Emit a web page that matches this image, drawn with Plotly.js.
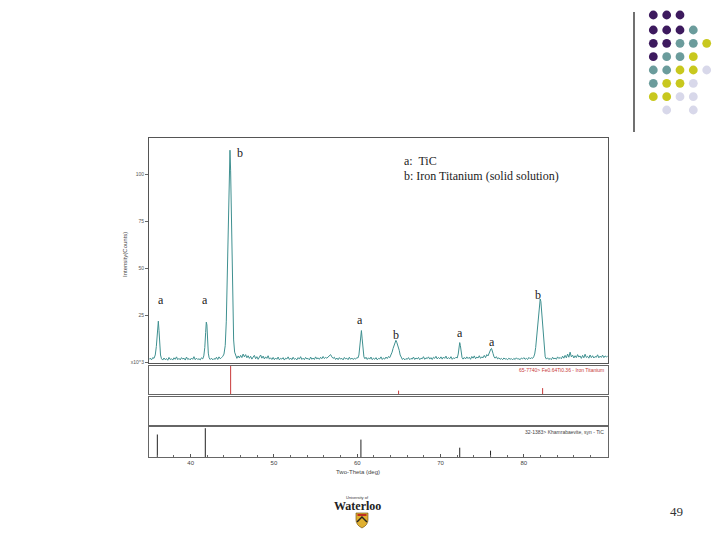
<!DOCTYPE html>
<html>
<head>
<meta charset="utf-8">
<script src="https://cdn.plot.ly/plotly-3.0.1.min.js"></script>
<style>html,body{margin:0;padding:0;background:#fff;}#chart{width:728px;height:546px;}</style>
</head>
<body>
<div id="chart"></div>
<script>
// ---- DATA ----
const twoTheta = [
35.00,35.15,35.30,35.45,35.60,35.75,35.88,35.98,36.06,36.12,
36.20,36.28,36.38,36.50,36.65,36.80,36.95,37.10,37.25,37.40,
37.55,37.70,37.85,38.00,38.15,38.30,38.45,38.60,38.75,38.90,
39.05,39.20,39.35,39.50,39.65,39.80,39.95,40.10,40.25,40.40,
40.55,40.70,40.85,41.00,41.15,41.30,41.45,41.58,41.70,41.80,
41.88,41.95,42.03,42.12,42.22,42.35,42.50,42.65,42.80,42.95,
43.10,43.25,43.40,43.55,43.70,43.85,44.00,44.15,44.28,44.40,
44.50,44.58,44.66,44.72,44.80,44.88,44.97,45.06,45.16,45.28,
45.42,45.55,45.70,45.85,46.00,46.15,46.30,46.45,46.60,46.75,
46.90,47.05,47.20,47.35,47.50,47.65,47.80,47.95,48.10,48.25,
48.40,48.55,48.70,48.85,49.00,49.15,49.30,49.45,49.60,49.75,
49.90,50.05,50.20,50.35,50.50,50.65,50.80,50.95,51.10,51.25,
51.40,51.55,51.70,51.85,52.00,52.15,52.30,52.45,52.60,52.75,
52.90,53.05,53.20,53.35,53.50,53.65,53.80,53.95,54.10,54.25,
54.40,54.55,54.70,54.85,55.00,55.15,55.30,55.45,55.60,55.75,
55.90,56.05,56.20,56.35,56.50,56.65,56.80,56.95,57.10,57.25,
57.40,57.55,57.70,57.85,58.00,58.15,58.30,58.45,58.60,58.75,
58.90,59.05,59.20,59.35,59.50,59.65,59.80,59.95,60.08,60.20,
60.32,60.42,60.50,60.58,60.68,60.80,60.92,61.05,61.20,61.35,
61.50,61.65,61.80,61.95,62.10,62.25,62.40,62.55,62.70,62.85,
63.00,63.15,63.30,63.45,63.60,63.75,63.90,64.05,64.18,64.30,
64.42,64.54,64.64,64.74,64.84,64.94,65.04,65.15,65.28,65.42,
65.55,65.70,65.85,66.00,66.15,66.30,66.45,66.60,66.75,66.90,
67.05,67.20,67.35,67.50,67.65,67.80,67.95,68.10,68.25,68.40,
68.55,68.70,68.85,69.00,69.15,69.30,69.45,69.60,69.75,69.90,
70.05,70.20,70.35,70.50,70.65,70.80,70.95,71.10,71.25,71.40,
71.55,71.70,71.85,72.00,72.12,72.22,72.30,72.38,72.47,72.58,
72.70,72.85,73.00,73.15,73.30,73.45,73.60,73.75,73.90,74.05,
74.20,74.35,74.50,74.65,74.80,74.95,75.10,75.25,75.40,75.55,
75.70,75.82,75.94,76.04,76.12,76.20,76.30,76.42,76.55,76.70,
76.85,77.00,77.15,77.30,77.45,77.60,77.75,77.90,78.05,78.20,
78.35,78.50,78.65,78.80,78.95,79.10,79.25,79.40,79.55,79.70,
79.85,80.00,80.15,80.30,80.45,80.60,80.75,80.90,81.05,81.18,
81.30,81.42,81.52,81.60,81.66,81.74,81.82,81.90,81.96,82.04,
82.13,82.22,82.32,82.43,82.56,82.70,82.85,83.00,83.15,83.30,
83.45,83.60,83.75,83.90,84.05,84.20,84.35,84.50,84.65,84.80,
84.95,85.10,85.25,85.40,85.55,85.70,85.85,86.00,86.15,86.30,
86.45,86.60,86.75,86.90,87.05,87.20,87.35,87.50,87.65,87.80,
87.95,88.10,88.25,88.40,88.55,88.70,88.85,89.00,89.15,89.30,
89.45,89.60,89.75,89.90,90.05
];
const counts = [
1.6,2.3,1.4,2.6,2.2,4.0,8.5,15.0,20.0,22.0,
17.0,9.0,4.0,2.0,1.3,2.4,1.5,2.1,1.2,2.7,
1.6,2.0,1.3,2.5,1.7,3.0,1.5,2.2,1.4,2.6,
1.8,2.3,1.3,2.9,1.6,2.1,1.4,2.4,1.7,3.1,
1.5,2.3,1.6,2.0,1.4,2.5,1.9,3.5,8.0,16.0,
21.5,20.0,12.0,5.0,2.5,1.6,2.3,1.4,2.1,1.7,
2.8,1.6,3.0,2.0,2.6,3.2,4.5,9.0,22.0,48.0,
78.0,100.0,112.0,113.0,102.0,80.0,50.0,26.0,12.0,5.5,
3.0,2.2,3.5,2.4,3.8,2.6,4.5,3.0,4.2,2.5,
3.6,2.2,3.3,1.8,2.9,3.8,2.0,3.1,1.7,2.8,
4.0,2.3,3.4,1.9,3.0,2.2,3.6,1.8,2.5,1.6,
2.7,1.5,2.4,1.7,2.9,1.4,2.2,1.8,2.6,1.3,
2.3,1.9,3.0,1.6,2.4,1.5,2.8,1.7,2.1,1.4,
2.6,1.8,3.1,1.6,2.3,1.5,2.7,1.9,2.2,1.4,
2.9,1.7,2.4,1.6,3.0,1.9,2.5,1.7,2.8,2.0,
3.2,2.1,2.7,2.3,3.1,3.5,4.2,3.0,2.2,2.8,
1.6,2.4,1.5,2.6,1.8,2.2,1.4,2.7,1.9,2.3,
1.5,2.8,1.7,2.4,1.6,2.2,1.8,2.6,2.4,4.0,
8.5,14.5,17.0,13.0,6.5,3.0,2.0,2.8,1.6,2.5,
1.8,2.9,1.5,2.3,1.7,2.6,1.4,2.2,1.9,3.0,
1.6,2.4,1.8,2.9,2.1,3.2,2.6,4.0,5.5,7.5,
9.5,11.0,11.8,10.8,9.6,8.8,6.5,4.0,2.5,1.6,
2.3,1.4,2.1,1.7,2.6,1.5,2.2,1.8,2.9,1.6,
2.4,1.9,2.7,1.5,2.3,2.0,3.1,1.7,2.5,2.1,
3.0,1.8,2.6,1.6,2.8,2.2,3.3,1.9,2.7,2.0,
3.0,1.8,2.9,2.2,3.4,1.9,2.6,2.0,3.1,1.7,
2.5,2.1,2.8,2.4,4.5,8.0,10.6,9.0,5.0,2.6,
1.8,2.7,1.9,3.0,2.1,2.8,1.7,3.2,2.3,3.5,
2.0,2.9,2.4,3.6,2.2,3.0,2.5,3.8,2.6,4.2,
3.5,5.0,6.5,7.2,7.5,6.6,4.8,3.0,2.3,3.1,
1.9,2.5,1.7,2.2,1.5,2.4,1.8,2.0,1.5,2.3,
1.7,2.1,1.4,2.2,1.6,2.5,1.8,2.0,1.5,2.4,
1.9,2.6,1.7,2.2,1.6,2.7,2.0,2.5,2.2,3.0,
4.5,8.0,13.0,20.0,21.5,23.5,28.0,32.5,33.8,32.5,
27.5,20.0,12.0,6.0,3.0,1.8,2.5,1.6,2.2,1.5,
2.8,1.9,2.4,1.7,3.0,2.1,2.7,2.0,3.4,2.3,
3.8,2.5,4.5,2.8,5.5,3.0,3.9,2.4,3.6,2.6,
4.2,2.9,3.5,2.2,3.8,2.5,4.4,2.7,3.3,2.3,
4.0,2.6,3.6,2.4,3.2,2.8,4.1,2.5,3.4,2.7,
3.9,2.6,3.5,3.0,3.3
];
// reference patterns (stick positions, relative intensity %)
const feTiPos = [44.8, 64.96, 82.25];
const feTiRel = [100, 12, 21];
const ticPos = [36.0, 41.76, 60.44, 72.3, 76.0];
const ticRel = [75, 96, 58, 31, 21];
// labels
const peakLetters = ['a', 'a', 'b', 'a', 'b', 'a', 'a', 'b'];
const yTickVals = [0, 25, 50, 75, 100];
const yTickText = ['x10^3', '25', '50', '75', '100'];
const xTickVals = [40, 50, 60, 70, 80];
const legendLines = ['a:  TiC', 'b: Iron Titanium (solid solution)'];
const feTiCard = '65-7740> Fe0.64Ti0.36 - Iron Titanium';
const ticCard = '32-1383> Khamrabaevite, syn - TiC';

// ---- LAYOUT HELPERS ----
const W = 728, H = 546;
const PX = x => x / W;
const PY = y => 1 - y / H;

function sticks(pos, rel) {
  const x = [], y = [];
  pos.forEach((p, i) => { x.push(p, p, null); y.push(0, rel[i], null); });
  return { x, y };
}
const fe = sticks(feTiPos, feTiRel);
const tc = sticks(ticPos, ticRel);

const traces = [
  { x: twoTheta, y: counts, type: 'scatter', mode: 'lines', xaxis: 'x', yaxis: 'y',
    line: { color: '#3f9090', width: 1 }, hoverinfo: 'skip' },
  { x: fe.x, y: fe.y, type: 'scatter', mode: 'lines', xaxis: 'x2', yaxis: 'y2',
    line: { color: '#c83a3a', width: 1 }, hoverinfo: 'skip' },
  { x: [35, 90], y: [null, null], type: 'scatter', mode: 'lines', xaxis: 'x3', yaxis: 'y3', hoverinfo: 'skip' },
  { x: tc.x, y: tc.y, type: 'scatter', mode: 'lines', xaxis: 'x4', yaxis: 'y4',
    line: { color: '#222', width: 1 }, hoverinfo: 'skip' }
];

const xDom = [PX(149), PX(608)];
const xRange = [35, 90.1];
const boxAx = { showline: true, mirror: true, linecolor: '#666', linewidth: 1,
  showgrid: false, zeroline: false, fixedrange: true };

const layout = {
  width: W, height: H, margin: { l: 0, r: 0, t: 0, b: 0 },
  paper_bgcolor: '#fff', plot_bgcolor: '#fff', showlegend: false,
  font: { family: 'Liberation Sans, Arial, sans-serif', color: '#444' },
  xaxis: Object.assign({}, boxAx, { domain: xDom, range: xRange, anchor: 'y', showticklabels: false, ticks: '', linecolor: '#555' }),
  yaxis: Object.assign({}, boxAx, { domain: [PY(362.5), PY(138)], range: [0, 119.5], anchor: 'x', linecolor: '#555',
    tickvals: yTickVals, ticktext: yTickText, ticks: 'outside', ticklen: 3, tickcolor: '#666',
    tickfont: { size: 5, color: '#555' } }),
  xaxis2: Object.assign({}, boxAx, { domain: xDom, range: xRange, anchor: 'y2', showticklabels: false, ticks: '' }),
  yaxis2: Object.assign({}, boxAx, { domain: [PY(394), PY(366)], range: [0, 100], anchor: 'x2', showticklabels: false, ticks: '' }),
  xaxis3: Object.assign({}, boxAx, { domain: xDom, range: xRange, anchor: 'y3', showticklabels: false, ticks: '' }),
  yaxis3: Object.assign({}, boxAx, { domain: [PY(425), PY(397)], range: [0, 100], anchor: 'x3', showticklabels: false, ticks: '' }),
  xaxis4: Object.assign({}, boxAx, { domain: xDom, range: xRange, anchor: 'y4',
    tickvals: xTickVals, ticks: 'inside', ticklen: 3, tickcolor: '#555',
    tickfont: { size: 6, color: '#444' },
    minor: { dtick: 2, tick0: 36, ticks: 'inside', ticklen: 2, tickcolor: '#666' } }),
  yaxis4: Object.assign({}, boxAx, { domain: [PY(457), PY(427)], range: [0, 100], anchor: 'x4', showticklabels: false, ticks: '' }),
  annotations: [],
  shapes: []
};

// peak labels (in data coordinates of the main panel)
const peakLabelX = [36.4, 41.72, 45.92, 60.32, 64.6, 72.32, 76.12, 81.72];
const peakLabelY = [33.2, 33.2, 111.3, 22.6, 14.6, 15.5, 11.1, 35.9];
peakLetters.forEach((t, i) => layout.annotations.push({
  text: t, x: peakLabelX[i], y: peakLabelY[i], xref: 'x', yref: 'y', showarrow: false,
  xanchor: 'center', yanchor: 'middle',
  font: { family: 'Liberation Serif, Times New Roman, serif', size: 12, color: '#222' }
}));

function pa(text, x, y, opts) {
  layout.annotations.push(Object.assign({ text, x: PX(x), y: PY(y), xref: 'paper', yref: 'paper',
    showarrow: false, xanchor: 'center', yanchor: 'middle' }, opts));
}
const serif = 'Liberation Serif, Times New Roman, serif';
pa(legendLines[0], 402, 161, { xanchor: 'left', font: { family: serif, size: 12, color: '#222' } });
pa(legendLines[1], 402, 176, { xanchor: 'left', font: { family: serif, size: 12, color: '#222' } });
pa(feTiCard, 606, 369.5, { xanchor: 'right', font: { size: 5, color: '#c83a3a' } });
pa(ticCard, 606, 431.5, { xanchor: 'right', font: { size: 5, color: '#444' } });
pa('Two-Theta (deg)', 358, 472, { font: { size: 6, color: '#444' } });
pa('Intensity(Counts)', 125, 255, { textangle: -90, font: { size: 6, color: '#444' } });
pa('49', 676, 511, { font: { family: serif, size: 13, color: '#333' } });
pa('University of', 357, 497, { font: { size: 4, color: '#333' } });
pa('<b>Waterloo</b>', 357, 506, { font: { family: serif, size: 12, color: '#222' } });

// decorative dots
const dotCols = [653.3, 666.7, 680, 693.3, 706.7];
const dotRows = [15, 30, 43.3, 56.7, 70, 83.3, 96.7, 110];
const C = { P: '#3d1a5e', T: '#6b9c9c', Y: '#c8c81e', L: '#d8d8ea', '.': null };
const dotGrid = ['PPP..', 'PPPT.', 'PPTTY', 'PTTY.', 'TTYYL', 'TYYL.', 'YYLL.', '.L.L.'];
dotGrid.forEach((row, r) => row.split('').forEach((k, c) => {
  if (!C[k]) return;
  const cx = dotCols[c], cy = dotRows[r], rad = 4.4;
  layout.shapes.push({ type: 'circle', xref: 'paper', yref: 'paper',
    x0: PX(cx - rad), x1: PX(cx + rad), y0: PY(cy + rad), y1: PY(cy - rad),
    fillcolor: C[k], line: { width: 0 } });
}));
layout.shapes.push({ type: 'line', xref: 'paper', yref: 'paper', x0: PX(634), x1: PX(634), y0: PY(12), y1: PY(132),
  line: { color: '#111', width: 1.2 } });
// shield
const sx = v => PX(v).toFixed(5), sy = v => PY(v).toFixed(5);
layout.shapes.push({ type: 'path', xref: 'paper', yref: 'paper',
  path: `M${sx(356)},${sy(513)} L${sx(368)},${sy(513)} L${sx(368)},${sy(520)} Q${sx(368)},${sy(525)} ${sx(362)},${sy(528)} Q${sx(356)},${sy(525)} ${sx(356)},${sy(520)} Z`,
  fillcolor: '#e0b030', line: { color: '#6a4a10', width: 0.6 } });
layout.shapes.push({ type: 'path', xref: 'paper', yref: 'paper',
  path: `M${sx(357)},${sy(522)} L${sx(362)},${sy(517)} L${sx(367)},${sy(522)}`,
  line: { color: '#222', width: 1.4 } });
layout.shapes.push({ type: 'rect', xref: 'paper', yref: 'paper',
  x0: PX(357.5), x1: PX(366.5), y0: PY(516), y1: PY(514),
  fillcolor: '#c03020', line: { width: 0 } });

Plotly.newPlot('chart', traces, layout, { staticPlot: true, displayModeBar: false });
</script>
</body>
</html>
